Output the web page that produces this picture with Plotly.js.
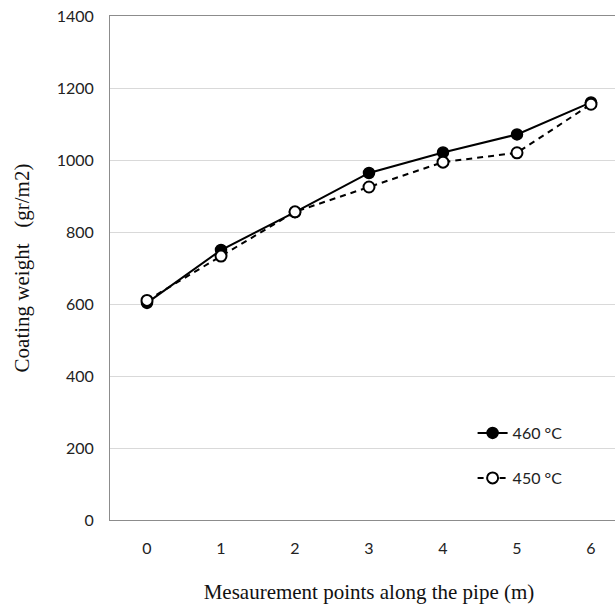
<!DOCTYPE html>
<html>
<head>
<meta charset="utf-8">
<script src="https://cdn.plot.ly/plotly-3.0.1.min.js"></script>
<style>
  html, body { margin: 0; padding: 0; overflow: hidden; background: #fff; }
  #chart { width: 640px; height: 605px; }
</style>
</head>
<body>
<div id="chart"></div>
<script>
// Measurement positions along the pipe (m)
const points = [0, 1, 2, 3, 4, 5, 6];
const tickLabels = ['0', '1', '2', '3', '4', '5', '6'];

// Coating weight (gr/m2) at each position, by bath temperature
const weight460 = [603, 750, 855, 964, 1021, 1071, 1160];
const weight450 = [610, 733, 856, 925, 994, 1020, 1155];

const seriesNames = ['460 °C', '450 °C'];

const sansFont = 'Lato, "Open Sans", sans-serif';
const serifFont = '"Liberation Serif", "Times New Roman", serif';

const traces = [
  {
    x: points, y: weight460, name: seriesNames[0],
    type: 'scatter', mode: 'lines+markers',
    line: { color: '#000', width: 2, dash: 'solid' },
    marker: { symbol: 'circle', size: 11, color: '#000', line: { color: '#000', width: 1.5 } },
    legend: 'legend'
  },
  {
    x: points, y: weight450, name: seriesNames[1],
    type: 'scatter', mode: 'lines+markers',
    line: { color: '#000', width: 2, dash: '6px,5px' },
    marker: { symbol: 'circle', size: 11, color: '#fff', line: { color: '#000', width: 2 } },
    legend: 'legend2'
  }
];

const legendCommon = {
  xanchor: 'left', yanchor: 'middle',
  bgcolor: 'rgba(0,0,0,0)', borderwidth: 0,
  font: { family: sansFont, size: 16, color: '#222' }
};

const layout = {
  width: 640, height: 605,
  margin: { l: 110, r: 12, t: 16, b: 85 },
  paper_bgcolor: '#fff', plot_bgcolor: '#fff',
  showlegend: true,
  xaxis: {
    range: [-0.5, 6.5],
    tickmode: 'array', tickvals: points, ticktext: tickLabels,
    showgrid: false, zeroline: false,
    showline: true, linecolor: '#8c8c8c', linewidth: 1, mirror: true,
    ticks: 'outside', ticklen: 14, tickcolor: 'rgba(0,0,0,0)',
    tickfont: { family: sansFont, size: 16, color: '#222' },
    title: { text: 'Mesaurement points along the pipe (m)', standoff: 28,
             font: { family: serifFont, size: 21, color: '#111' } }
  },
  yaxis: {
    range: [0, 1400], dtick: 200, tick0: 0,
    showgrid: true, gridcolor: '#d9d9d9', gridwidth: 1, zeroline: false,
    showline: true, linecolor: '#8c8c8c', linewidth: 1, mirror: true,
    ticks: 'outside', ticklen: 12, tickcolor: 'rgba(0,0,0,0)',
    tickfont: { family: sansFont, size: 16, color: '#222' },
    title: { text: 'Coating weight&nbsp;&nbsp;&nbsp;(gr/m2)', standoff: 21,
             font: { family: serifFont, size: 21, color: '#111' } }
  },
  legend: Object.assign({ x: 0.70, y: 0.1726 }, legendCommon),
  legend2: Object.assign({ x: 0.70, y: 0.0833 }, legendCommon)
};

Plotly.newPlot('chart', traces, layout, { displayModeBar: false, staticPlot: true });
</script>
</body>
</html>
